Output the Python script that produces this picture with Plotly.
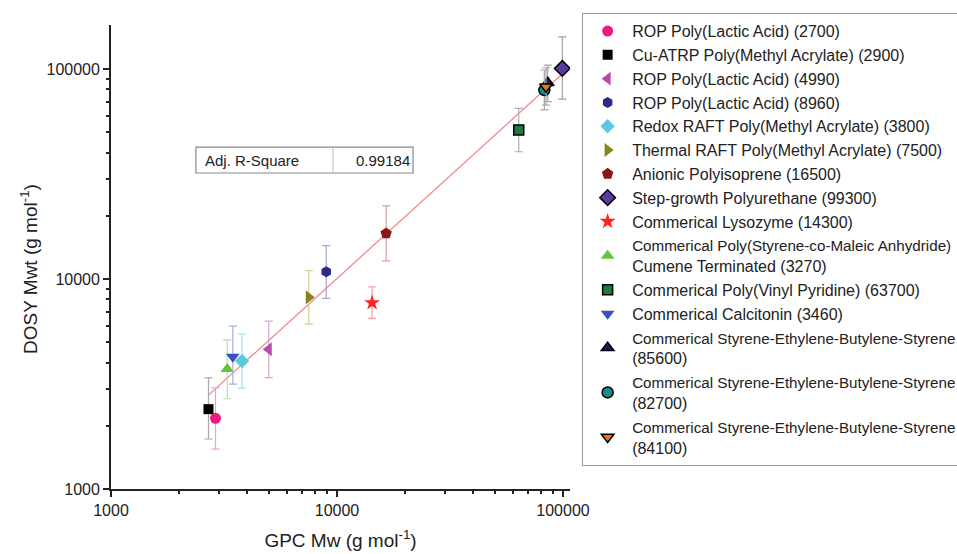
import plotly.graph_objects as go

# ---------------- data ----------------
names = [
    "ROP Poly(Lactic Acid) (2700)",
    "Cu-ATRP Poly(Methyl Acrylate) (2900)",
    "ROP Poly(Lactic Acid) (4990)",
    "ROP Poly(Lactic Acid) (8960)",
    "Redox RAFT Poly(Methyl Acrylate) (3800)",
    "Thermal RAFT Poly(Methyl Acrylate) (7500)",
    "Anionic Polyisoprene (16500)",
    "Step-growth Polyurethane (99300)",
    "Commerical Lysozyme (14300)",
    "Commerical Poly(Styrene-co-Maleic Anhydride)<br>Cumene Terminated (3270)",
    "Commerical Poly(Vinyl Pyridine) (63700)",
    "Commerical Calcitonin (3460)",
    "Commerical Styrene-Ethylene-Butylene-Styrene<br>(85600)",
    "Commerical Styrene-Ethylene-Butylene-Styrene<br>(82700)",
    "Commerical Styrene-Ethylene-Butylene-Styrene<br>(84100)",
]
gpc_mw = [2900, 2700, 4990, 8960, 3800, 7500, 16500, 99300, 14300, 3270, 63700, 3460, 85600, 82700, 84100]
dosy_mw = [2170, 2400, 4630, 10840, 4070, 8190, 16500, 100700, 7710, 3730, 51300, 4270, 86000, 79400, 82400]
err_hi = [3030, 3380, 6300, 14420, 5470, 10970, 22300, 142500, 9180, 5130, 65000, 5970, 104500, 99000, 101500]
err_lo = [1550, 1730, 3390, 8090, 3020, 6100, 12200, 71900, 6500, 2690, 40400, 3160, 70000, 64000, 67400]

fit_x = [2700, 100000]
fit_y = [2800, 95500]
adj_r2_label = "Adj. R-Square"
adj_r2_value = "0.99184"
x_title = "GPC Mw (g mol<sup>-1</sup>)"
y_title = "DOSY Mwt (g mol<sup>-1</sup>)"
tick_vals = [1000, 10000, 100000]
tick_text = ["1000", "10000", "100000"]

# ---------------- styles ----------------
symbols = ["circle", "square", "triangle-left", "hexagon", "diamond", "triangle-right",
           "pentagon", "diamond", "star", "triangle-up", "square", "triangle-down",
           "triangle-up", "circle", "triangle-down"]
fills = ["#ee1a7d", "#000000", "#b64aa6", "#2b2b86", "#5cc9dc", "#85851c",
         "#8a1616", "#5a3a9c", "#ff2222", "#66c43a", "#1e7a40", "#3a4fc0",
         "#1c1c5c", "#168c8c", "#e8761e"]
edges = ["#ee1a7d", "#000000", "#b64aa6", "#2b2b86", "#5cc9dc", "#85851c",
         "#8a1616", "#000000", "#ff2222", "#66c43a", "#000000", "#3a4fc0",
         "#000000", "#000000", "#000000"]
ebar_colors = ["#f3a0c4", "#a8a8a8", "#dba6d3", "#a4a4d2", "#a6e0ea", "#cfcf98",
               "#d7a2a2", "#a0a0a0", "#ffa0a0", "#b6e09e", "#b0b0b0", "#a4b0e2",
               "#a8a8a8", "#a8a8a8", "#a8a8a8"]
sizes = [11, 10, 12, 11, 11, 12, 12, 12, 12, 12, 10, 12, 11, 11, 11]

FONT = "Liberation Sans, Arial, sans-serif"


def legend_label(name):
    # only the very long lines are set slightly smaller so they fit inside the page
    parts = []
    for line in name.split("<br>"):
        if len(line) > 42:
            line = '<span style="font-size:15.2px">' + line + "</span>"
        parts.append(line)
    return "<br>".join(parts)


fig = go.Figure()

fig.add_trace(go.Scatter(x=fit_x, y=fit_y, mode="lines",
                         line=dict(color="#f28a8a", width=1.3),
                         showlegend=False, hoverinfo="skip"))

for i, n in enumerate(names):
    fig.add_trace(go.Scatter(
        x=[gpc_mw[i]], y=[dosy_mw[i]], mode="markers", name=legend_label(n),
        marker=dict(symbol=symbols[i], size=sizes[i], color=fills[i],
                    line=dict(color=edges[i], width=1.5 if edges[i] != fills[i] else 0)),
        error_y=dict(type="data", symmetric=False,
                     array=[err_hi[i] - dosy_mw[i]],
                     arrayminus=[dosy_mw[i] - err_lo[i]],
                     color=ebar_colors[i], thickness=1.2, width=4),
    ))

axis_font = dict(family=FONT, size=16, color="#222")
common = dict(type="log", tickvals=tick_vals, ticktext=tick_text,
              ticks="outside", ticklen=6, tickwidth=1.5, tickcolor="#222",
              showline=True, linecolor="#222", linewidth=1.8,
              showgrid=False, zeroline=False, tickfont=axis_font,
              minor=dict(ticks="outside", ticklen=3, tickwidth=1.5, tickcolor="#222",
                         dtick="D1", showgrid=False))

fig.update_xaxes(range=[3, 5.031],
                 title=dict(text=x_title, standoff=16,
                            font=dict(family=FONT, size=19, color="#222")),
                 **common)
fig.update_yaxes(range=[3, 5.21], **common)

# y axis title as rotated text, centred a little below the plot middle like the reference
fig.add_annotation(xref="paper", yref="paper", x=-0.18, y=0.475,
                   xanchor="center", yanchor="middle", textangle=-90,
                   text=y_title, showarrow=False,
                   font=dict(family=FONT, size=19, color="#222"))

# Adj. R-Square table box
bx0, bx1, bdiv, by0, by1 = 0.185, 0.658, 0.4837, 0.681, 0.737
fig.add_shape(type="rect", xref="paper", yref="paper", x0=bx0, x1=bx1, y0=by0, y1=by1,
              line=dict(color="#888", width=1.2), layer="below")
fig.add_shape(type="line", xref="paper", yref="paper", x0=bdiv, x1=bdiv,
              y0=by0, y1=by1, line=dict(color="#bbb", width=1), layer="below")
fig.add_annotation(xref="paper", yref="paper", x=0.2, y=(by0 + by1) / 2,
                   xanchor="left", yanchor="middle",
                   text=adj_r2_label, showarrow=False,
                   font=dict(family=FONT, size=15, color="#222"))
fig.add_annotation(xref="paper", yref="paper", x=0.592, y=(by0 + by1) / 2,
                   xanchor="center", yanchor="middle",
                   text=adj_r2_value, showarrow=False,
                   font=dict(family=FONT, size=15, color="#222"))

fig.update_layout(
    width=957, height=554,
    margin=dict(l=111, r=387, t=25, b=65, autoexpand=False),
    paper_bgcolor="white", plot_bgcolor="white",
    legend=dict(x=1.026, y=1.026, xanchor="left", yanchor="top",
                bordercolor="#999", borderwidth=1.2, bgcolor="white",
                font=dict(family=FONT, size=16, color="#222"),
                itemwidth=39, maxheight=550, tracegroupgap=0),
    showlegend=True,
)

fig.write_html("out.html")
